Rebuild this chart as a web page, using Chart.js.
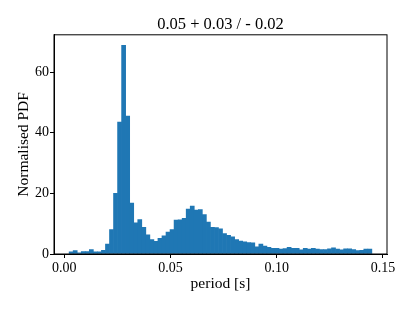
<!DOCTYPE html>
<html>
<head>
<meta charset="utf-8">
<script src="https://cdn.jsdelivr.net/npm/chart.js@4.4.1/dist/chart.umd.min.js"></script>
<style>
    html, body { margin: 0; padding: 0; background: #fff; }
    #wrap { width: 415px; height: 311px; position: relative; }
</style>
</head>
<body>
<div id="wrap"><canvas id="histChart"></canvas></div>
<script>
// histogram of period [s], 75 equal bins
const binStart = 0.00227;
const binWidth = 0.0019;
const pdfValues = [
    0.7, 1.1, 0.4, 0.8, 0.8, 1.5, 0.7, 0.7, 1.2, 3.3,
    8.1, 20.0, 43.5, 68.9, 45.5, 16.8, 10.3, 11.4, 8.8, 6.3,
    4.8, 4.2, 5.2, 6.0, 7.2, 8.1, 11.2, 11.3, 11.8, 14.8,
    15.8, 14.5, 14.7, 13.0, 10.5, 8.8, 8.7, 8.3, 6.7, 6.2,
    5.7, 4.8, 4.3, 4.0, 3.8, 3.7, 2.4, 3.3, 2.6, 2.2,
    1.9, 1.9, 1.6, 1.8, 2.2, 1.9, 1.9, 1.4, 1.9, 1.6,
    1.9, 1.6, 1.5, 1.5, 1.7, 2.0, 1.6, 1.4, 1.7, 1.7,
    1.5, 1.1, 1.2, 1.6, 1.6
];
const xTicks = [0, 0.05, 0.10, 0.15];
const yTicks = [0, 20, 40, 60];

const serif = "'Liberation Serif', 'DejaVu Serif', serif";

// matplotlib style 5% margins on x
const xLo = binStart;
const xHi = binStart + binWidth * pdfValues.length;
const xPad = (xHi - xLo) * 0.05;
const yMax = Math.max(...pdfValues) * 1.05;

const points = pdfValues.map((v, i) => ({ x: binStart + binWidth * (i + 0.5), y: v }));

// draw the top and right spines too
const boxPlugin = {
    id: 'box',
    afterDraw(chart) {
        const { ctx, chartArea } = chart;
        ctx.save();
        ctx.strokeStyle = '#000';
        ctx.lineWidth = 1;
        ctx.strokeRect(chartArea.left, chartArea.top, chartArea.right - chartArea.left, chartArea.bottom - chartArea.top);
        ctx.restore();
    }
};

new Chart(document.getElementById('histChart').getContext('2d'), {
    type: 'bar',
    data: {
        datasets: [{
            data: points,
            backgroundColor: '#1f77b4',
            borderWidth: 0,
            barPercentage: 1,
            categoryPercentage: 1
        }]
    },
    options: {
        responsive: true,
        maintainAspectRatio: false,
        animation: false,
        layout: { padding: { left: 0, right: 28, top: 0, bottom: 0 } },
        plugins: {
            legend: { display: false },
            tooltip: { enabled: false },
            title: {
                display: true,
                fullSize: false,
                text: '0.05 + 0.03 / - 0.02',
                color: '#000',
                font: { family: serif, size: 16.5, weight: 'normal' },
                padding: { top: 15, bottom: 0 }
            }
        },
        scales: {
            x: {
                type: 'linear',
                offset: false,
                min: xLo - xPad,
                max: xHi + xPad,
                afterBuildTicks: (scale) => { scale.ticks = xTicks.map(v => ({ value: v })); },
                afterFit: (scale) => { scale.height = 57; },
                grid: { offset: false, drawOnChartArea: false, tickLength: 4, tickColor: '#000' },
                border: { color: '#000', width: 1 },
                ticks: {
                    color: '#000',
                    padding: 2,
                    maxRotation: 0,
                    font: { family: serif, size: 14 },
                    callback: (v) => Number(v).toFixed(2)
                },
                title: {
                    display: true,
                    text: 'period [s]',
                    color: '#000',
                    font: { family: serif, size: 15.5 },
                    padding: { top: 0, bottom: 18 }
                }
            },
            y: {
                min: 0,
                max: yMax,
                afterBuildTicks: (scale) => { scale.ticks = yTicks.map(v => ({ value: v })); },
                afterFit: (scale) => { scale.width = 54; },
                grid: { drawOnChartArea: false, tickLength: 4, tickColor: '#000' },
                border: { color: '#000', width: 1 },
                ticks: {
                    color: '#000',
                    padding: 1,
                    font: { family: serif, size: 14 }
                },
                title: {
                    display: true,
                    text: 'Normalised PDF',
                    color: '#000',
                    font: { family: serif, size: 15.5 },
                    padding: { top: 15, bottom: 0 }
                }
            }
        }
    },
    plugins: [boxPlugin]
});
</script>
</body>
</html>
